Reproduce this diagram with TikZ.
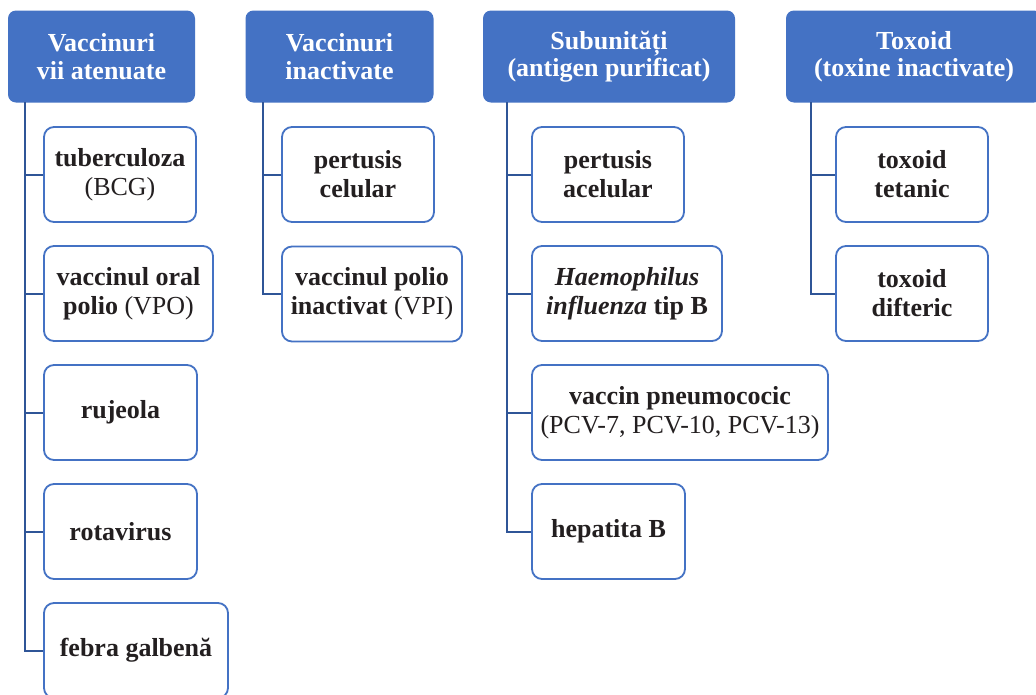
\documentclass[tikz,border=0pt]{standalone}
\usepackage{fontspec}
\setmainfont{Liberation Serif}
\definecolor{hdrblue}{HTML}{4472C4}
\definecolor{linkblue}{HTML}{2F5597}
\definecolor{ink}{HTML}{231F20}
\tikzset{
  header/.style={rectangle, rounded corners=8pt, fill=hdrblue, draw=none,
    text=white, font=\fontsize{26}{27.5}\selectfont\bfseries, align=center,
    minimum height=92pt, inner sep=0pt},
  item/.style={rectangle, rounded corners=10pt, fill=white, draw=hdrblue,
    line width=1.8pt, text=ink, font=\fontsize{26}{29}\selectfont, align=center,
    minimum height=95pt, inner sep=0pt},
  conn/.style={draw=linkblue, line width=2pt}
}
\begin{document}
\begin{tikzpicture}[x=1pt, y=-1pt]
  \clip (0,0) rectangle (1036,694);
  \fill[white] (0,0) rectangle (1036,694);

  % column headers
  \node[header, minimum width=187pt] (h1) at (101.5,56.5) {Vaccinuri\\vii atenuate};
  \node[header, minimum width=188pt] (h2) at (339.5,56.5) {Vaccinuri\\inactivate};
  \node[header, minimum width=252pt] (h3) at (609,56.5) {Subunități\\(antigen purificat)};
  \node[header, minimum width=256pt] (h4) at (914,56.5) {Toxoid\\(toxine inactivate)};

  % tops of the branch lines under each header
  \coordinate (t1) at (25,102);
  \coordinate (t2) at (263,102);
  \coordinate (t3) at (507,102);
  \coordinate (t4) at (811,102);

  % live attenuated vaccines
  \node[item, minimum width=152pt] (a1) at (120,174.5) {\textbf{tuberculoza}\\(BCG)};
  \node[item, minimum width=169pt] (a2) at (128.5,293.5) {\textbf{vaccinul oral}\\\textbf{polio} (VPO)};
  \node[item, minimum width=153pt] (a3) at (120.5,412.5) {\textbf{rujeola}};
  \node[item, minimum width=153pt] (a4) at (120.5,531.5) {\textbf{rotavirus}};
  \node[item, minimum width=184pt] (a5) at (136,650.5) {\textbf{febra galbenă}};

  % inactivated vaccines
  \node[item, minimum width=152pt] (b1) at (358,174.5) {\textbf{pertusis}\\\textbf{celular}};
  \node[item, minimum width=180pt] (b2) at (372,294) {\textbf{vaccinul polio}\\\textbf{inactivat} (VPI)};

  % subunit vaccines
  \node[item, minimum width=152pt] (c1) at (608,174.5) {\textbf{pertusis}\\\textbf{acelular}};
  \node[item, minimum width=190pt] (c2) at (627,293.5) {\textbf{\textit{Haemophilus}}\\\textbf{\textit{influenza} tip B}};
  \node[item, minimum width=296pt] (c3) at (680,412.5) {\textbf{vaccin pneumococic}\\(PCV-7, PCV-10, PCV-13)};
  \node[item, minimum width=153pt] (c4) at (608.5,531.5) {\textbf{hepatita B}};

  % toxoids
  \node[item, minimum width=152pt] (d1) at (912,174.5) {\textbf{toxoid}\\\textbf{tetanic}};
  \node[item, minimum width=152pt] (d2) at (912,293.5) {\textbf{toxoid}\\\textbf{difteric}};

  % branch connectors
  \foreach \n in {a1,a2,a3,a4,a5} \draw[conn] (t1) |- (\n.west);
  \foreach \n in {b1,b2} \draw[conn] (t2) |- (\n.west);
  \foreach \n in {c1,c2,c3,c4} \draw[conn] (t3) |- (\n.west);
  \foreach \n in {d1,d2} \draw[conn] (t4) |- (\n.west);
\end{tikzpicture}
\end{document}
